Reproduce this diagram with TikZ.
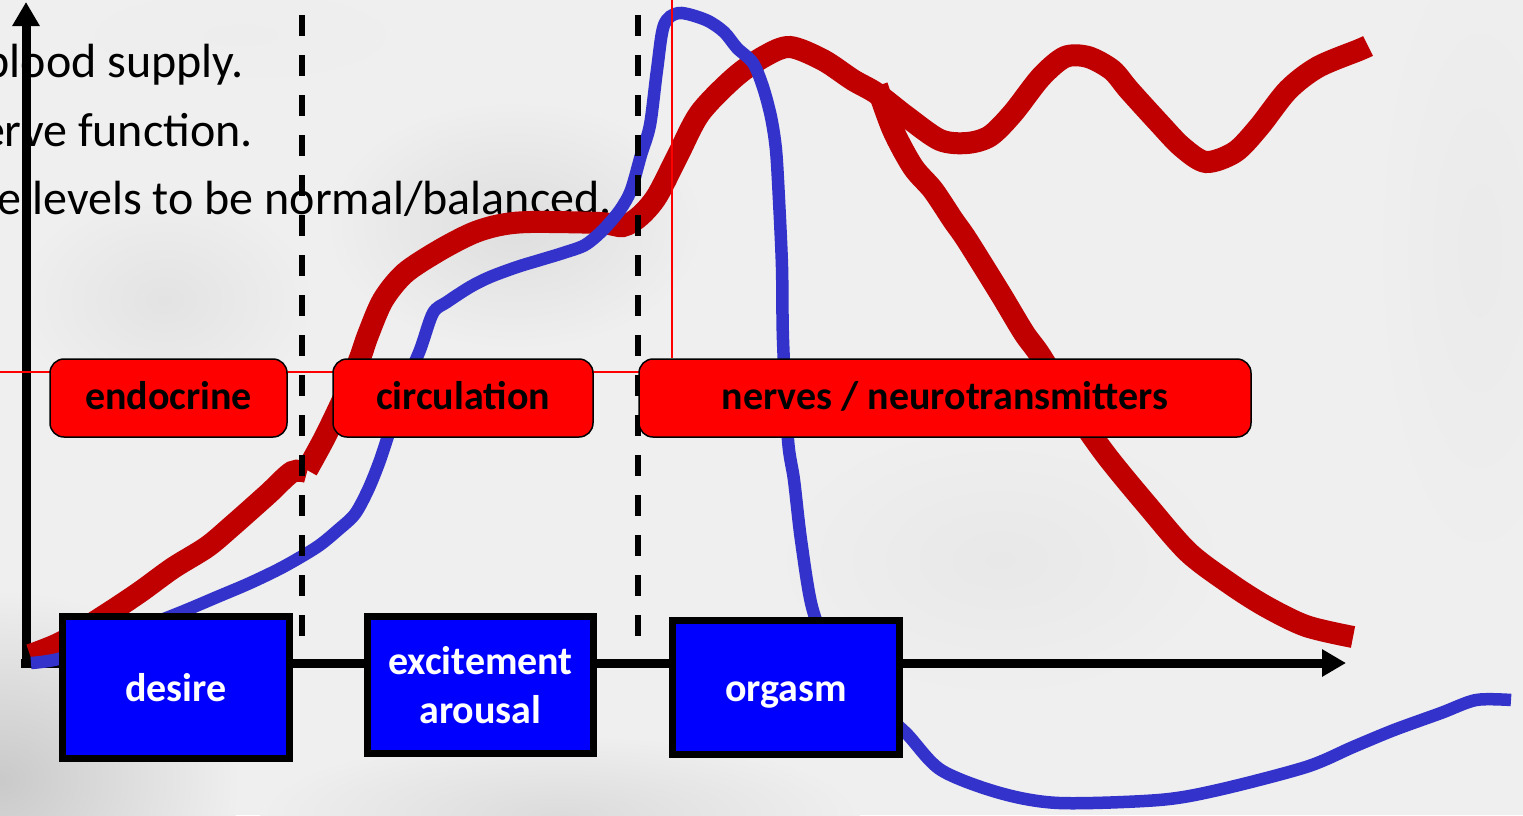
\documentclass[tikz,border=0pt]{standalone}
\usepackage{fontspec}
\setmainfont{Carlito}
\usetikzlibrary{arrows.meta}
\definecolor{curvered}{HTML}{C00000}
\definecolor{curveblue}{HTML}{3333CC}
\definecolor{boxred}{HTML}{FF0000}
\definecolor{boxblue}{HTML}{0000FF}
\definecolor{bgc}{HTML}{EFEFEF}
\begin{document}
\begin{tikzpicture}[x=1pt,y=-1pt,
  bodytext/.style={font=\fontsize{48}{56}\selectfont, inner sep=0pt, anchor=base east},
  redbox/.style={draw=black, line width=1.5pt, fill=boxred, rounded corners=14pt,
    font=\bfseries\fontsize{40}{46}\selectfont, text height=28pt, text depth=6pt, inner sep=0pt},
  bluebox/.style={draw=black, line width=7pt, fill=boxblue, text=white, inner sep=0pt,
    font=\bfseries\fontsize{40}{49}\selectfont, align=center},
  onelabel/.style={text height=33pt, text depth=6pt},
  redcurve/.style={line width=22pt, draw=curvered},
  bluecurve/.style={line width=12.5pt, draw=curveblue},
  divider/.style={line width=6pt, dash pattern=on 21pt off 19pt},
  guide/.style={line width=1.5pt, draw=boxred},
  axisline/.style={line width=9pt, -{Triangle[length=24pt,width=26pt]}},
  blob/.style={outer color=bgc}
]
\useasboundingbox (0,0) rectangle (1523,815);
\clip (0,0) rectangle (1523,815);
% background
\fill[bgc] (0,0) rectangle (1523,815);
\shade[blob, inner color=gray!42] (0,780) ellipse [x radius=240pt, y radius=190pt];
\shade[blob, inner color=gray!26] (515,225) ellipse [x radius=190pt, y radius=125pt];
\shade[blob, inner color=gray!22] (165,300) ellipse [x radius=150pt, y radius=110pt];
\shade[blob, inner color=gray!28] (560,815) ellipse [x radius=300pt, y radius=80pt];
\shade[blob, inner color=gray!16] (1480,250) ellipse [x radius=110pt, y radius=330pt];
\shade[blob, inner color=gray!18] (1000,560) ellipse [x radius=230pt, y radius=140pt];
\shade[blob, inner color=gray!14] (240,35) ellipse [x radius=200pt, y radius=60pt];

% clipped bullet text
\node[bodytext] (t1) at (244,77) {blood supply.};
\node[bodytext] (t2) at (253,146) {erve function.};
\node[bodytext] (t3) at (612,214) {e levels to be normal/balanced.};

% axes
\coordinate (ybot) at (26,668);
\coordinate (ytop) at (26,2);
\coordinate (xbeg) at (21,663);
\coordinate (xend) at (1346,663);
\draw[axisline] (ybot) -- (ytop);
\draw[axisline] (xbeg) -- (xend);

% curves
\draw[redcurve] plot[smooth, tension=0.5] coordinates {(30,655) (62,642) (107,614) (140,592) (173,568) (207,547) (232,526) (268,494) (292,472) (307,472)};
\draw[redcurve] plot[smooth, tension=0.5] coordinates {(307,470) (325,437) (345,395) (360,358) (368,335) (383,300) (405,273) (440,250) (473,233) (500,225) (530,222) (600,223) (623,226) (640,216) (657,196) (678,155) (700,113) (735,77) (765,56) (790,47) (823,60) (853,80) (876,93) (907,117) (940,140) (967,143) (990,136) (1013,113) (1041,77) (1065,57) (1088,57) (1112,70) (1129,90) (1159,123) (1182,147) (1206,162) (1235,152) (1259,127) (1288,90) (1318,67) (1359,50) (1368,46)};
\draw[redcurve] plot[smooth, tension=0.5] coordinates {(877,86) (893,130) (913,167) (933,190) (953,220) (967,240) (1000,293) (1024,333) (1040,355) (1071,405) (1106,455) (1147,505) (1188,552) (1229,583) (1265,606) (1306,626) (1353,637)};
\draw[bluecurve] plot[smooth, tension=0.5] coordinates {(31,663) (62,658) (120,636) (179,613) (217,597) (250,583) (283,567) (317,547) (338,530) (355,514) (368,490) (379,463) (389,433) (403,390) (420,350) (433,313) (447,302) (470,287) (490,277) (517,267) (540,260) (563,253) (585,245) (603,230) (620,210) (631,190) (641,155) (650,125) (657,70) (664,25) (679,13) (706,20) (724,32) (737,48) (753,63) (763,87) (771,117) (776,150) (779,200) (782,267) (783,340) (788,440) (794,480) (801,540) (812,607) (830,650) (870,700) (906,733) (941,770) (1000,793) (1059,803) (1159,800) (1218,790) (1306,767) (1353,747) (1394,730) (1441,713) (1476,700) (1511,700)};

% dashed dividers
\coordinate (d1t) at (302,15);
\coordinate (d1b) at (302,640);
\coordinate (d2t) at (638,15);
\coordinate (d2b) at (638,640);
\draw[divider] (d1t) -- (d1b);
\draw[divider] (d2t) -- (d2b);

% thin red guide lines
\coordinate (gh1) at (0,372);
\coordinate (gh2) at (640,372);
\coordinate (gv1) at (672,0);
\coordinate (gv2) at (672,358);
\draw[guide] (gh1) -- (gh2);
\draw[guide] (gv1) -- (gv2);

% red boxes
\node[redbox, minimum width=237pt, minimum height=78pt] (endo) at (168.5,398) {endocrine};
\node[redbox, minimum width=260pt, minimum height=78pt] (circ) at (463,398) {circulation};
\node[redbox, minimum width=612pt, minimum height=78pt] (nerv) at (945,398) {nerves / neurotransmitters};

% blue boxes
\node[bluebox, onelabel, minimum width=227pt, minimum height=142pt] (desire) at (176,687.5) {desire};
\node[bluebox, minimum width=226pt, minimum height=137pt] (excite) at (480.5,685) {excitement\\arousal};
\node[bluebox, onelabel, minimum width=227pt, minimum height=134pt] (orgasm) at (786,687.5) {orgasm};
\end{tikzpicture}
\end{document}
